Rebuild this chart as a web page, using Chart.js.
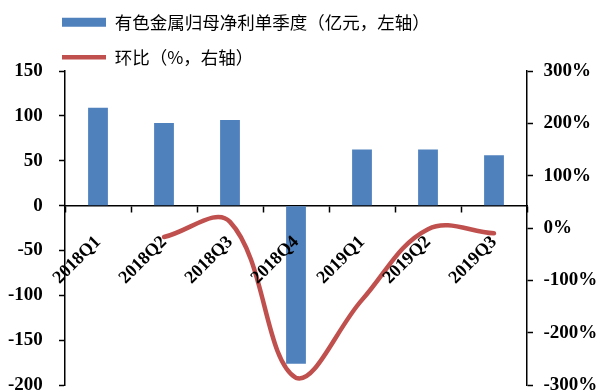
<!DOCTYPE html>
<html>
<head>
<meta charset="utf-8">
<script src="https://cdn.jsdelivr.net/npm/chart.js@4/dist/chart.umd.min.js"></script>
<style>
  html, body { margin: 0; padding: 0; background: #fff; }
  #wrap { width: 606px; height: 392px; }
</style>
</head>
<body>
<div id="wrap"><canvas id="c" width="606" height="392"></canvas></div>
<script>
// Quarterly figures
const quarters = ['2018Q1', '2018Q2', '2018Q3', '2018Q4', '2019Q1', '2019Q2', '2019Q3'];
const netProfit = [109, 92, 95.5, -176, 62.6, 62.6, 56.2];      // 亿元, left axis
const qoqChange = [null, -17, 12, -286, -137, -2, -10];         // %, right axis
const leftTicks = [-200, -150, -100, -50, 0, 50, 100, 150];
const rightTicks = [-300, -200, -100, 0, 100, 200, 300];

const barLabel = '有色金属归母净利单季度（亿元，左轴）';
const lineLabel = '环比（%，右轴）';

// small line height keeps the end labels from reserving extra room above/below the plot
const tickFont = { family: '"Liberation Serif", "Times New Roman", serif', size: 19, weight: 'bold', lineHeight: 0.5 };
const catFont = { family: '"Liberation Serif", "Times New Roman", serif', size: 18, weight: 'bold' };
const EN = '\u2002';

// Legend placement: trim its fixed bottom gap and indent it to line up over the plot
const legendPlace = {
  id: 'legendPlace',
  beforeLayout(chart) {
    const lg = chart.legend;
    if (lg && !lg._trimmed) {
      const fit = lg.fit;
      lg.fit = function () { fit.call(this); this.height -= 5; };
      lg._trimmed = true;
    }
  },
  afterLayout(chart) {
    const lg = chart.legend;
    if (lg) { lg.left += 44.5; lg.right += 44.5; }
  }
};

new Chart(document.getElementById('c'), {
  data: {
    labels: quarters,
    datasets: [
      {
        type: 'bar',
        label: barLabel,
        data: netProfit,
        yAxisID: 'y',
        backgroundColor: '#4F81BD',
        borderWidth: 0,
        categoryPercentage: 1,
        barPercentage: 0.3,
        pointStyle: 'rect',
        order: 1
      },
      {
        type: 'line',
        label: lineLabel,
        data: qoqChange,
        yAxisID: 'y2',
        borderColor: '#C0504D',
        backgroundColor: '#C0504D',
        borderWidth: 4.5,
        borderCapStyle: 'round',
        borderJoinStyle: 'round',
        tension: 0.38,
        pointRadius: 0,
        pointHoverRadius: 0,
        pointStyle: 'line',
        fill: false,
        order: 0
      }
    ]
  },
  options: {
    responsive: false,
    animation: false,
    events: [],
    layout: { padding: { left: 0, right: 0, top: -4, bottom: 0 } },
    plugins: {
      tooltip: { enabled: false },
      legend: {
        position: 'top',
        align: 'start',
        labels: {
          usePointStyle: true,
          pointStyleWidth: 44,
          boxHeight: 9,
          padding: 17.5,
          color: '#000',
          font: { family: '"Noto Sans CJK SC", sans-serif', size: 17.5 },
          sort: (a, b) => a.datasetIndex - b.datasetIndex
        }
      }
    },
    scales: {
      x: {
        type: 'category',
        position: { y: 0 },
        offset: true,
        grid: { display: true, offset: true, drawOnChartArea: false, drawTicks: true, tickLength: 6, tickColor: '#000', tickWidth: 1.5 },
        border: { display: true, color: '#000', width: 1.5 },
        ticks: { z: 1, minRotation: 45, maxRotation: 45, autoSkip: false, padding: 20, color: '#000', font: catFont }
      },
      y: {
        type: 'linear',
        position: 'left',
        min: leftTicks[0],
        max: leftTicks[leftTicks.length - 1],
        afterBuildTicks: s => { s.ticks = leftTicks.map(v => ({ value: v })); },
        afterFit: s => { s.width = 65; },
        grid: { drawOnChartArea: false, drawTicks: true, tickLength: 6, tickColor: '#000', tickWidth: 1.5 },
        border: { display: true, color: '#000', width: 1.5 },
        ticks: { padding: 2, color: '#000', font: tickFont, callback: v => v + ' ' + EN }
      },
      y2: {
        type: 'linear',
        position: 'right',
        min: rightTicks[0],
        max: rightTicks[rightTicks.length - 1],
        afterBuildTicks: s => { s.ticks = rightTicks.map(v => ({ value: v })); },
        afterFit: s => { s.width = 79; },
        grid: { drawOnChartArea: false, drawTicks: true, tickLength: 6, tickColor: '#000', tickWidth: 1.5 },
        border: { display: true, color: '#000', width: 1.5 },
        ticks: { padding: 1, color: '#000', font: tickFont, callback: v => EN + v + '%' }
      }
    }
  },
  plugins: [legendPlace]
});
</script>
</body>
</html>
